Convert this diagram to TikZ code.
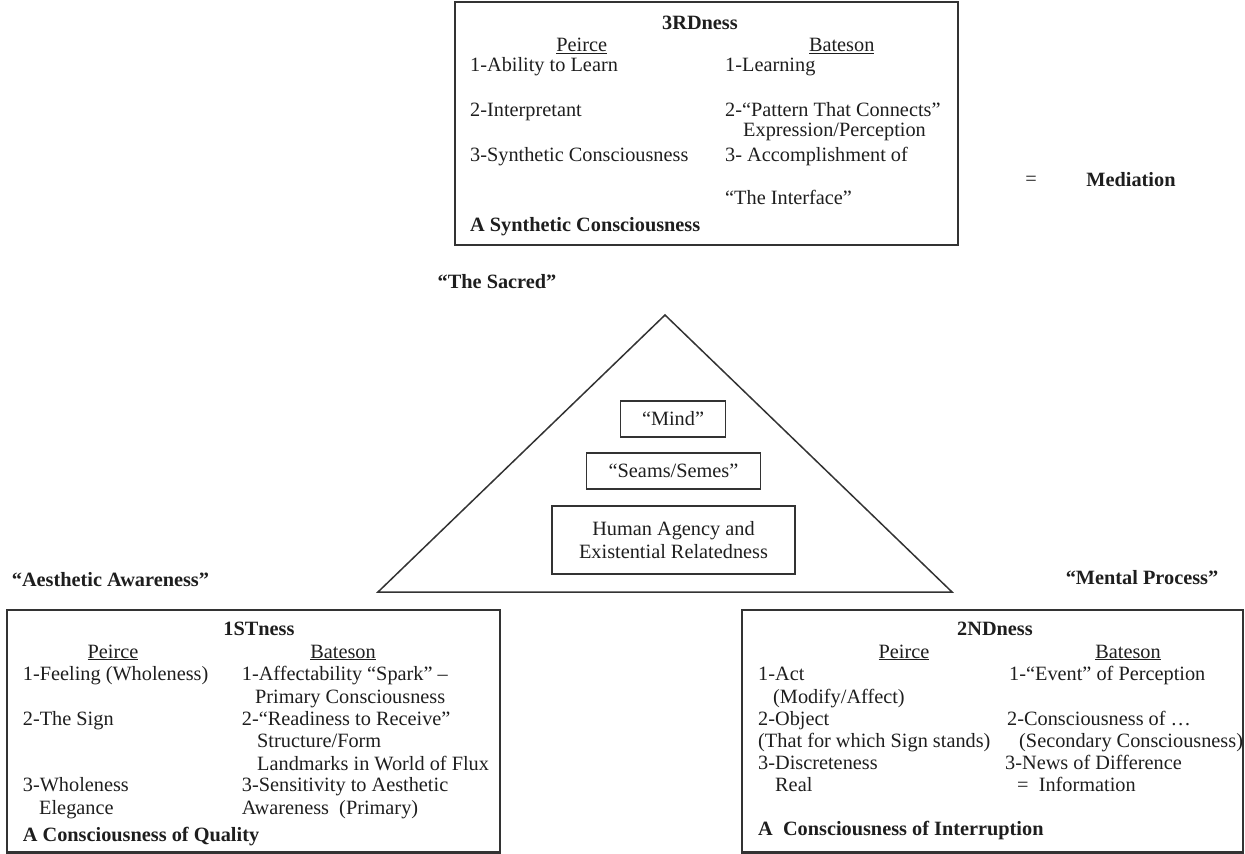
\documentclass[tikz,border=0pt]{standalone}
\usepackage{fontspec}
\setmainfont{Liberation Serif}
\usetikzlibrary{positioning,calc}
\definecolor{boxgray}{HTML}{333333}
\definecolor{inkgray}{HTML}{1E1E1E}
\newcommand{\diagfont}{\fontsize{20.3}{22.5}\selectfont}
\tikzset{
    every node/.style={font=\diagfont, text=inkgray},
    bigbox/.style={draw=boxgray, line width=2.4pt, inner sep=0pt},
    smallbox/.style={draw=boxgray, line width=1.8pt, align=center, inner sep=0pt},
    ltxt/.style={anchor=base west, inner sep=0pt},
    ctxt/.style={anchor=base, inner sep=0pt},
    bltxt/.style={ltxt, font=\diagfont\bfseries},
    bctxt/.style={ctxt, font=\diagfont\bfseries},
    triline/.style={draw=boxgray, line width=1.5pt, line join=miter},
}
\begin{document}
\begin{tikzpicture}[x=1pt, y=-1pt]
\useasboundingbox (0,0) rectangle (1245,854);
% the three boxes
\node[bigbox, minimum width=503pt, minimum height=243pt] (third) at (706.5,123.5) {};
\node[bigbox, minimum width=493pt, minimum height=242.5pt] (first) at (253.5,731.25) {};
\node[bigbox, minimum width=501pt, minimum height=242.5pt] (second) at (992.5,731.25) {};
% 3RDness
\node[bctxt] (h3) at (700,29) {3RDness};
\node[ctxt] (p3) at (581.7,51.5) {\underline{Peirce}};
\node[ctxt] (b3) at (841.7,51.5) {\underline{Bateson}};
\foreach \y/\t [count=\i] in {71.5/{1-Ability to Learn}, 116.5/{2-Interpretant}, 161.5/{3-Synthetic Consciousness}}
  \node[ltxt] (tp-\i) at (470,\y) {\t};
\foreach \x/\y/\t [count=\i] in {725/71.5/{1-Learning}, 725/116.5/{2-“Pattern That Connects”}, 743/136.5/{Expression/Perception}, 725/161.5/{3- Accomplishment of}, 725/204.5/{“The Interface”}}
  \node[ltxt] (tb-\i) at (\x,\y) {\t};
\node[bltxt] (q3) at (470,231.5) {A Synthetic Consciousness};
\node[ctxt] (eq) at (1031,185) {=};
\node[bctxt] (med) at (1131,186.5) {Mediation};
% triangle
\node[bctxt] (sacred) at (497,288) {“The Sacred”};
\coordinate (apex) at (665,315);
\coordinate (baseL) at (378,592);
\coordinate (baseR) at (952,592);
\draw[triline] (apex) -- (baseR) -- (baseL) -- cycle;
\node[smallbox, minimum width=105pt, minimum height=36pt] (mind) at (673,419) {“Mind”};
\node[smallbox, minimum width=174pt, minimum height=36pt] (seams) at (673.5,471) {“Seams/Semes”};
\node[smallbox, minimum width=243pt, minimum height=68.6pt, font=\fontsize{20.3}{23.4}\selectfont] (agency) at (673.5,540) {Human Agency and\\Existential Relatedness};
\node[bltxt] (aesth) at (11.7,586.5) {“Aesthetic Awareness”};
\node[bctxt] (mental) at (1142,584.5) {“Mental Process”};
% 1STness
\node[bctxt] (h1) at (259,635) {1STness};
\node[ctxt] (p1) at (113,658) {\underline{Peirce}};
\node[ctxt] (b1) at (343,658) {\underline{Bateson}};
\foreach \x/\y/\t [count=\i] in {22.7/680/{1-Feeling (Wholeness)}, 22.7/725/{2-The Sign}, 22.7/791/{3-Wholeness}, 39/814/{Elegance}}
  \node[ltxt] (fp-\i) at (\x,\y) {\t};
\foreach \x/\y/\t [count=\i] in {241.7/680/{1-Affectability “Spark” –}, 255/703/{Primary Consciousness}, 241.7/725/{2-“Readiness to Receive”}, 257/747/{Structure/Form}, 257/770/{Landmarks in World of Flux}, 241.7/791/{3-Sensitivity to Aesthetic}, 241.7/814/{Awareness\ \ (Primary)}}
  \node[ltxt] (fb-\i) at (\x,\y) {\t};
\node[bltxt] (q1) at (22.7,841.5) {A Consciousness of Quality};
% 2NDness
\node[bctxt] (h2) at (995,635) {2NDness};
\node[ctxt] (p2) at (904,658) {\underline{Peirce}};
\node[ctxt] (b2) at (1128,658) {\underline{Bateson}};
\foreach \x/\y/\t [count=\i] in {758/680/{1-Act}, 773/703/{(Modify/Affect)}, 758/725/{2-Object}, 758/747/{(That for which Sign stands)}, 758/769/{3-Discreteness}, 775/791/{Real}}
  \node[ltxt] (sp-\i) at (\x,\y) {\t};
\foreach \x/\y/\t [count=\i] in {1009/680/{1-“Event” of Perception}, 1007/725/{2-Consciousness of …}, 1019/747/{(Secondary Consciousness)}, 1005/769/{3-News of Difference}, 1017/791/{=\ \ Information}}
  \node[ltxt] (sb-\i) at (\x,\y) {\t};
\node[bltxt] (q2) at (758,835.5) {A\ \ Consciousness of Interruption};
\end{tikzpicture}
\end{document}
